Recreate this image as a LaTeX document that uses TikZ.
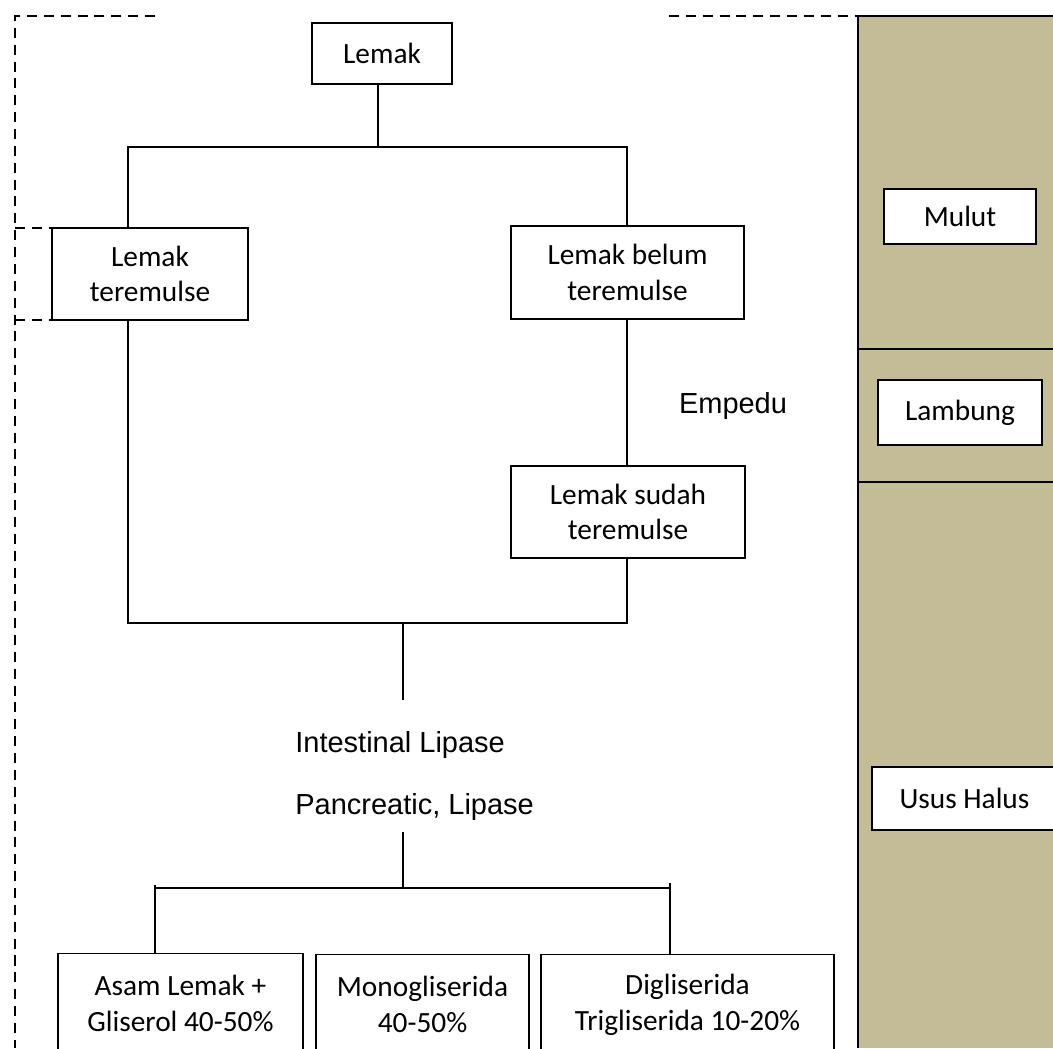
\documentclass[tikz,border=0pt]{standalone}
\usepackage{fontspec}
\setmainfont{Carlito}
\newfontfamily\arialfont{Liberation Sans}
\usetikzlibrary{positioning}
\definecolor{tanpanel}{HTML}{C4BC96}

\begin{document}
\begin{tikzpicture}[x=0.02cm, y=-0.02cm,
	box/.style={draw, line width=0.8pt, fill=white, align=center, inner sep=0pt,
		font=\fontsize{16.7}{20.3}\selectfont},
	link/.style={line width=0.75pt},
	dashline/.style={line width=1.4pt, dash pattern=on 5.7pt off 3.9pt},
	note/.style={font=\arialfont\fontsize{16.5}{20}\selectfont, inner sep=0pt}]
	\clip (0,0) rectangle (1053,1048);
	
	% panel kanan
	\fill[tanpanel] (858,16) rectangle (1053,1048);
	\draw[line width=1.1pt] (1053,16) -- (858,16) -- (858,1048);
	\draw[line width=0.9pt] (858,349) -- (1053,349);
	\draw[line width=0.9pt] (858,482) -- (1053,482);
	\node[box, minimum width=3.04cm, minimum height=1.1cm] (mulut) at (960,216.5) {Mulut};
	\node[box, minimum width=3.28cm, minimum height=1.3cm] (lambung) at (960,412.5) {Lambung};
	\node[box, minimum width=3.7cm, minimum height=1.26cm] (usus) at (964.5,798.5) {Usus Halus};
	
	% garis putus-putus
	\draw[dashline] (155,16) -- (15,16) -- (15,1048);
	\draw[dashline] (15,228) -- (63,228);
	\draw[dashline] (15,320) -- (67,320);
	\draw[dashline] (669,16) -- (858,16);
	
	% kotak
	\node[box, minimum width=2.8cm, minimum height=1.22cm] (lemak) at (382,53.5) {Lemak};
	\node[box, minimum width=3.92cm, minimum height=1.84cm] (emul) at (150,274) {Lemak\\teremulse};
	\node[box, minimum width=4.66cm, minimum height=1.86cm] (belum) at (627.5,272.5) {Lemak belum\\teremulse};
	\node[box, minimum width=4.68cm, minimum height=1.84cm] (sudah) at (628,512) {Lemak sudah\\teremulse};
	\node[box, minimum width=4.9cm, minimum height=2cm, anchor=north] (asam) at (180.5,953) {Asam Lemak +\\Gliserol 40-50\%};
	\node[box, minimum width=4.26cm, minimum height=2cm, anchor=north] (mono) at (422.5,954) {Monogliserida\\40-50\%};
	\node[box, minimum width=5.86cm, minimum height=2cm, anchor=north] (digli) at (687.5,954) {Digliserida\\Trigliserida 10-20\%};
	
	% teks
	\node[note] (empedu) at (733,406) {Empedu};
	\node[note, anchor=west] (intest) at (295,745) {Intestinal Lipase};
	\node[note, anchor=west] (pankreas) at (295,807) {Pancreatic, Lipase};
	
	% cabang atas
	\coordinate (s1) at (378,147);
	\coordinate (s1l) at (128,147);
	\coordinate (s1r) at (627,147);
	\draw[link] (s1 |- lemak.south) -- (s1);
	\draw[link] (s1l |- emul.north) -- (s1l) -- (s1r) -- (s1r |- belum.north);
	\draw[link] (s1r |- belum.south) -- (s1r |- sudah.north);
	
	% cabang tengah
	\coordinate (s2) at (403,623);
	\coordinate (s2l) at (128,623);
	\coordinate (s2r) at (627,623);
	\coordinate (s2e) at (403,700);
	\draw[link] (s1l |- emul.south) -- (s2l) -- (s2r) -- (s2r |- sudah.south);
	\draw[link] (s2) -- (s2e);
	
	% cabang bawah
	\coordinate (s3t) at (403,832);
	\coordinate (s3) at (403,888);
	\coordinate (s3l) at (155,888);
	\coordinate (s3r) at (670,888);
	\draw[link] (s3t) -- (s3);
	\draw[link] (s3l) -- (s3r);
	\draw[link] ([yshift=1.7pt]s3l) -- (s3l |- asam.north);
	\draw[link] ([yshift=2.8pt]s3r) -- (s3r |- digli.north);
\end{tikzpicture}
\end{document}
